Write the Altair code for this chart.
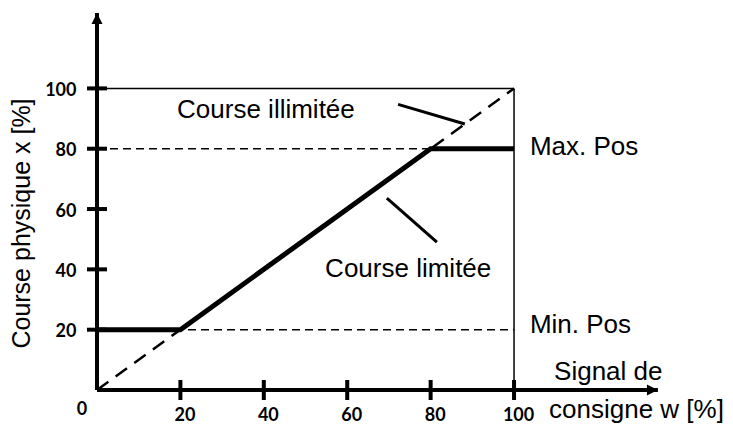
import altair as alt
import pandas as pd

# ---------------- data ----------------
w_limited = [0, 20, 80, 100]          # consigne w [%]
x_limited = [20, 20, 80, 80]          # course physique x [%] (course limitée)
w_unlimited = [0, 100]
x_unlimited = [0, 100]
min_pos = 20
max_pos = 80
box_max = 100
tick_values = [20, 40, 60, 80, 100]
axis_w_end = 134.5
axis_x_end = 125

annot_text = ["Course illimitée", "Course limitée", "Max. Pos", "Min. Pos",
              "Signal de", "consigne w [%]"]
annot_w = [19.2, 54.7, 103.8, 103.8, 109.6, 108.4]
annot_x = [90.2, 37.5, 77.9, 18.9, 3.3, -9.3]

leader_w1 = [72.2, 69.5]
leader_x1 = [94.7, 63.6]
leader_w2 = [88.2, 81.5]
leader_x2 = [88.2, 49.0]

# ---------------- scales / axes ----------------
FONT = "Liberation Sans"
LFONT = "Lato"
xs = alt.Scale(domain=[0, 135], nice=False, zero=False)
ys = alt.Scale(domain=[0, 125], nice=False, zero=False)

x_axis = alt.Axis(values=tick_values, domain=False, ticks=False, tickSize=0, grid=False,
                  labelFont=LFONT, labelFontWeight="bold", labelFontSize=18,
                  labelColor="black", labelPadding=30, labelBaseline="alphabetic", labelOffset=4,
                  labelFlush=False, labelOverlap=False, title=None)
y_axis = alt.Axis(values=tick_values, domain=False, ticks=False, tickSize=0, grid=False,
                  labelFont=LFONT, labelFontWeight="bold", labelFontSize=18,
                  labelColor="black", labelPadding=21, labelBaseline="middle", labelOffset=2,
                  labelFlush=False, labelOverlap=False,
                  title="Course physique x [%]", titleFont=FONT, titleFontSize=25,
                  titleFontWeight="normal", titleColor="black", titleAngle=270,
                  titleX=-68, titleY=210, titleAlign="center", titleBaseline="alphabetic")


def X(f):
    return alt.X(f, type="quantitative", scale=xs, axis=x_axis)


def Y(f):
    return alt.Y(f, type="quantitative", scale=ys, axis=y_axis)


def seg_df(w1, x1, w2, x2):
    return pd.DataFrame({"w": w1, "x": x1, "w2": w2, "x2": x2})


# box (top and right edges)
box = alt.Chart(seg_df([0, box_max], [box_max, 0], [box_max, box_max], [box_max, box_max])).mark_rule(
    color="black", strokeWidth=1.5).encode(x=X("w"), y=Y("x"), x2="w2", y2="x2")

# Min / Max dashed
minmax = alt.Chart(seg_df([0, 0], [min_pos, max_pos], [box_max, box_max], [min_pos, max_pos])).mark_rule(
    color="black", strokeWidth=1.5, strokeDash=[8, 5]).encode(x=X("w"), y=Y("x"), x2="w2", y2="x2")

# unlimited diagonal
diag = alt.Chart(pd.DataFrame({"w": w_unlimited, "x": x_unlimited})).mark_line(
    color="black", strokeWidth=2.5, strokeDash=[14, 9]).encode(x=X("w"), y=Y("x"))

# limited course
limited = alt.Chart(pd.DataFrame({"w": w_limited, "x": x_limited})).mark_line(
    color="black", strokeWidth=5, strokeJoin="miter", strokeCap="butt").encode(x=X("w"), y=Y("x"))

# leader lines
leaders = alt.Chart(seg_df(leader_w1, leader_x1, leader_w2, leader_x2)).mark_rule(
    color="black", strokeWidth=3).encode(x=X("w"), y=Y("x"), x2="w2", y2="x2")

# axis lines
axes = alt.Chart(seg_df([0, 0], [0, 0], [axis_w_end, 0], [0, axis_x_end])).mark_rule(
    color="black", strokeWidth=4).encode(x=X("w"), y=Y("x"), x2="w2", y2="x2")

arrow_x = alt.Chart(pd.DataFrame({"w": [axis_w_end], "x": [0]})).mark_point(
    shape="M1,0L-1,-1L-1,1Z", filled=True, color="black", opacity=1, size=121,
    xOffset=-5.5).encode(x=X("w"), y=Y("x"))
arrow_y = alt.Chart(pd.DataFrame({"w": [0], "x": [axis_x_end]})).mark_point(
    shape="M0,-1L1,1L-1,1Z", filled=True, color="black", opacity=1, size=121,
    yOffset=5.5).encode(x=X("w"), y=Y("x"))

# ticks crossing the axes
yticks = alt.Chart(pd.DataFrame({"w": [0] * len(tick_values), "x": tick_values})).mark_point(
    shape="M-1,0L1,0", filled=False, color="black", opacity=1, size=400, strokeWidth=4).encode(
    x=X("w"), y=Y("x"))
xticks = alt.Chart(pd.DataFrame({"w": tick_values, "x": [0] * len(tick_values)})).mark_point(
    shape="M0,-1L0,1", filled=False, color="black", opacity=1, size=400, strokeWidth=4).encode(
    x=X("w"), y=Y("x"))

# origin label
zero = alt.Chart(pd.DataFrame({"w": [0], "x": [0], "t": ["0"]})).mark_text(
    font=LFONT, fontWeight="bold", fontSize=18, color="black", dx=-15, dy=20,
    align="center", baseline="middle").encode(x=X("w"), y=Y("x"), text="t")

# annotations
annots = alt.Chart(pd.DataFrame({"w": annot_w, "x": annot_x, "t": annot_text})).mark_text(
    font=FONT, fontSize=26, color="black", align="left", baseline="alphabetic").encode(
    x=X("w"), y=Y("x"), text="t")

chart = alt.layer(box, minmax, diag, limited, leaders, axes, xticks, yticks,
                  arrow_x, arrow_y, zero, annots).properties(
    width=563, height=377,
    padding={"left": 89, "top": 5, "right": 65, "bottom": 34},
    autosize=alt.AutoSizeParams(type="none"),
    background="white",
).configure_view(stroke=None)

chart.save("out.html", embed_options={"renderer": "svg", "actions": False})
